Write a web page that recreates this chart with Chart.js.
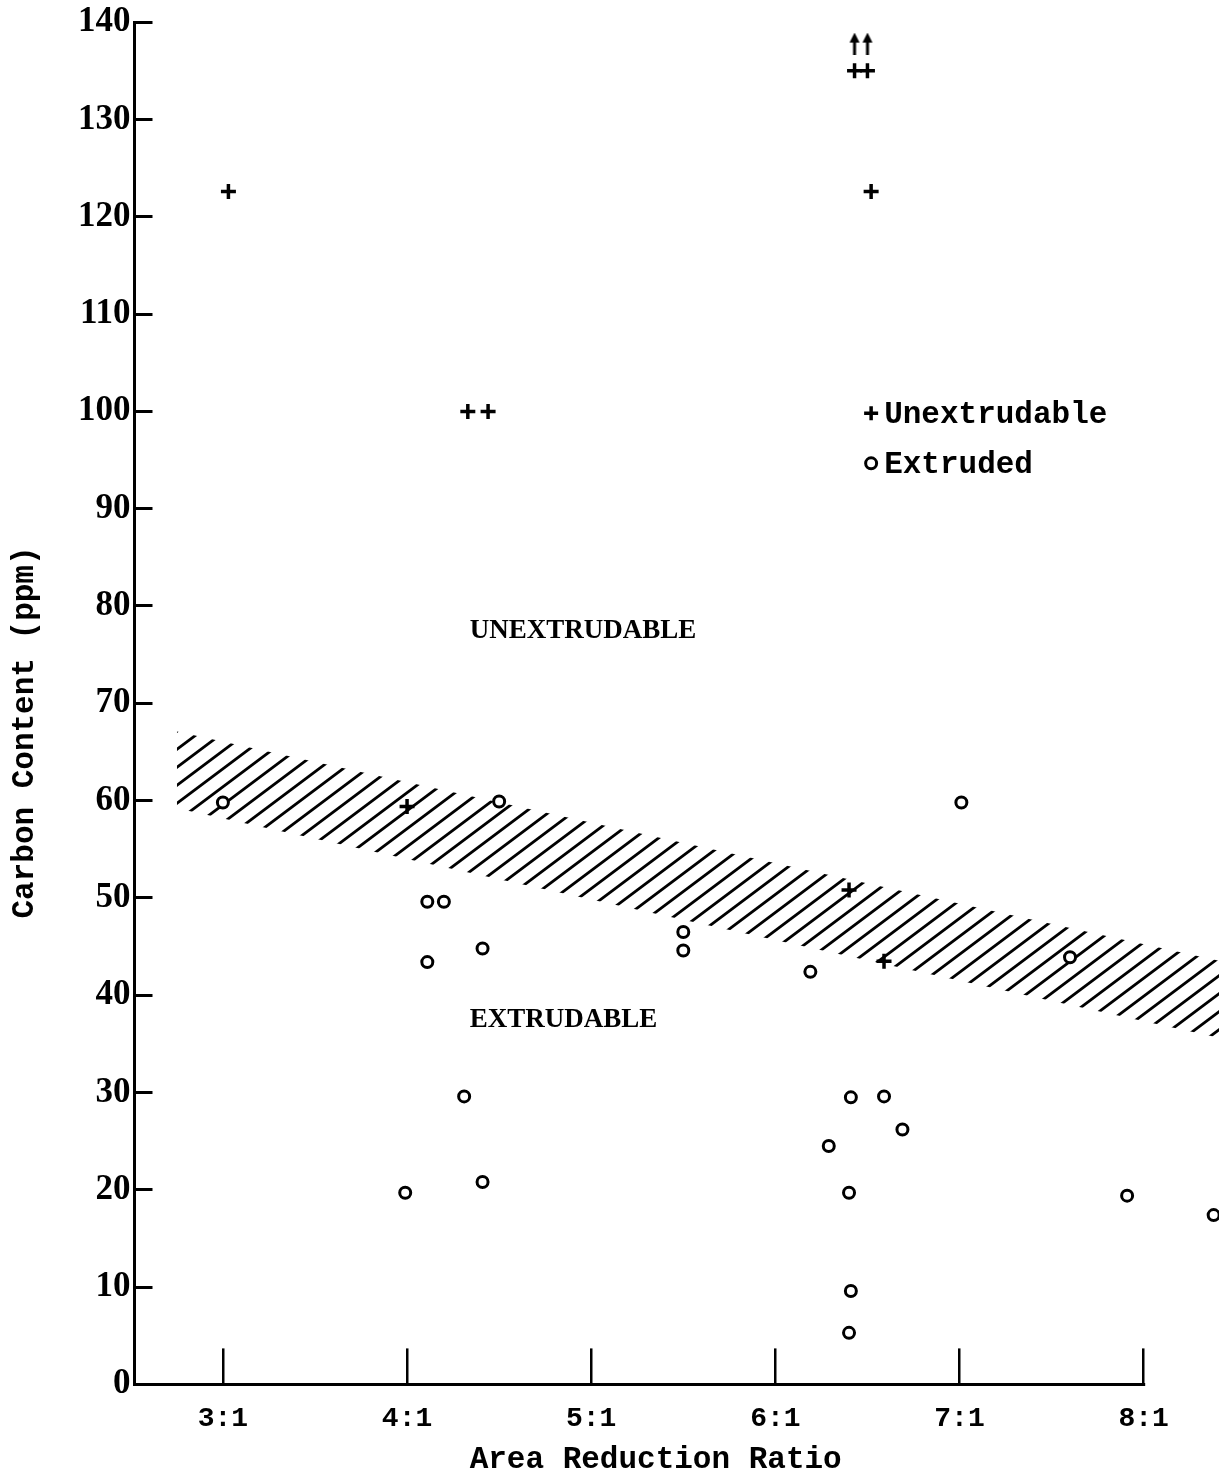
<!DOCTYPE html>
<html>
<head>
<meta charset="utf-8">
<script src="https://cdn.jsdelivr.net/npm/chart.js@4.4.1/dist/chart.umd.min.js"></script>
<style>
  html, body { margin: 0; padding: 0; background: #fff; }
</style>
</head>
<body>
<canvas id="chart" width="1230" height="1477"></canvas>
<script>
// area reduction ratio (n:1) vs carbon content (ppm)
var ratioTicks = [3, 4, 5, 6, 7, 8];

// + unextrudable billets
var unextrudableX = [3.03, 4.33, 4.44, 6.43, 6.50, 6.52, 4.00, 6.40, 6.59];
var unextrudableY = [122.6, 100, 100, 135, 135, 122.6, 59.4, 50.8, 43.5];

// arrows: off the top of the scale
var offScaleX = [6.43, 6.50];
var offScaleY = [137.8, 137.8];

// o extruded billets
var extrudedX = [3.00, 4.11, 4.20, 4.11, 4.50, 4.41, 4.31, 3.99, 4.41, 5.50, 5.50, 6.19,
                 7.01, 7.60, 6.41, 6.59, 6.69, 6.29, 6.40, 6.41, 6.40, 7.91, 8.38];
var extrudedY = [59.8, 49.6, 49.6, 43.4, 59.9, 44.8, 29.6, 19.7, 20.8, 46.5, 44.6, 42.4,
                 59.8, 43.9, 29.5, 29.6, 26.2, 24.5, 19.7, 9.6, 5.3, 19.4, 17.4];

// hatched boundary band (ends of its upper and lower edge)
var bandX = [2.75, 8.44];
var bandTop = [67.1, 43.4];
var bandBottom = [59.2, 35.5];

function toPoints(xs, ys) {
  var pts = [];
  for (var i = 0; i < xs.length; i++) pts.push({x: xs[i], y: ys[i]});
  return pts;
}

// diagonal hatch tile
function hatchPattern() {
  var c = document.createElement('canvas');
  c.width = 24; c.height = 18;
  var g = c.getContext('2d');
  g.strokeStyle = '#000';
  g.lineWidth = 2.8;
  for (var k = 0; k < 3; k++) {
    g.beginPath();
    g.moveTo(-24, k * 18 + 18);
    g.lineTo(48, k * 18 - 36);
    g.stroke();
  }
  return g.createPattern(c, 'repeat');
}

// small up arrow used as a point style
function arrowMark() {
  var c = document.createElement('canvas');
  c.width = 12; c.height = 22;
  var g = c.getContext('2d');
  g.fillStyle = '#000';
  g.fillRect(4.5, 6, 3, 16);
  g.beginPath();
  g.moveTo(6, 0); g.lineTo(11, 10); g.lineTo(1, 10); g.closePath();
  g.fill();
  return c;
}

var mono = '"Liberation Mono", "DejaVu Sans Mono", monospace';
var serif = '"Liberation Serif", "DejaVu Serif", serif';

// axis line that stops at 8:1, axis titles, region labels and the legend
var notes = {
  id: 'notes',
  afterDatasetsDraw: function(chart) {
    var ctx = chart.ctx, xs = chart.scales.x, ys = chart.scales.y;
    var area = chart.chartArea;
    ctx.save();
    ctx.strokeStyle = '#000';
    ctx.lineWidth = 3;
    ctx.beginPath();
    ctx.moveTo(area.left - 1.5, ys.getPixelForValue(0));
    ctx.lineTo(xs.getPixelForValue(8) + 1.5, ys.getPixelForValue(0));
    ctx.stroke();

    ctx.fillStyle = '#000';
    ctx.textBaseline = 'middle';
    ctx.font = 'bold 31px ' + mono;
    ctx.textAlign = 'center';
    ctx.fillText('Area Reduction Ratio', xs.getPixelForValue(5.35), chart.height - 17);

    // y title sits a little below the middle of the axis
    ctx.save();
    ctx.translate(25, ys.getPixelForValue(67));
    ctx.rotate(-Math.PI / 2);
    ctx.fillText('Carbon Content (ppm)', 0, 0);
    ctx.restore();

    ctx.textAlign = 'left';
    ctx.font = 'bold 27px ' + serif;
    ctx.fillText('UNEXTRUDABLE', xs.getPixelForValue(4.34), ys.getPixelForValue(77.4));
    ctx.fillText('EXTRUDABLE', xs.getPixelForValue(4.34), ys.getPixelForValue(37.4));

    var lx = xs.getPixelForValue(6.52), ly = ys.getPixelForValue(99.8);
    ctx.lineWidth = 3.5;
    ctx.beginPath();
    ctx.moveTo(lx - 7, ly); ctx.lineTo(lx + 7, ly);
    ctx.moveTo(lx, ly - 7); ctx.lineTo(lx, ly + 7);
    ctx.stroke();
    ctx.lineWidth = 3;
    ctx.beginPath();
    ctx.arc(lx, ly + 50, 5.5, 0, Math.PI * 2);
    ctx.stroke();
    ctx.font = 'bold 31px ' + mono;
    ctx.fillText('Unextrudable', lx + 13, ly + 2);
    ctx.fillText('Extruded', lx + 13, ly + 52);
    ctx.restore();
  }
};

var ctx = document.getElementById('chart').getContext('2d');
var myChart = new Chart(ctx, {
  type: 'scatter',
  data: {
    datasets: [{
      label: 'Unextrudable',
      data: toPoints(unextrudableX, unextrudableY),
      pointStyle: 'cross',
      pointRadius: 7.5,
      borderColor: '#000',
      borderWidth: 3.5
    }, {
      label: 'Off scale',
      data: toPoints(offScaleX, offScaleY),
      pointStyle: arrowMark()
    }, {
      label: 'Extruded',
      data: toPoints(extrudedX, extrudedY),
      pointStyle: 'circle',
      pointRadius: 5.5,
      borderColor: '#000',
      backgroundColor: '#fff',
      borderWidth: 3
    }, {
      type: 'line',
      label: 'band top',
      data: toPoints(bandX, bandTop),
      borderWidth: 0,
      pointRadius: 0,
      fill: '+1',
      backgroundColor: hatchPattern()
    }, {
      type: 'line',
      label: 'band bottom',
      data: toPoints(bandX, bandBottom),
      borderWidth: 0,
      pointRadius: 0,
      fill: false
    }]
  },
  options: {
    responsive: false,
    animation: false,
    layout: { padding: { top: 1, right: 2, bottom: -13, left: 56 } },
    plugins: {
      legend: { display: false },
      tooltip: { enabled: false }
    },
    scales: {
      x: {
        type: 'linear',
        min: 2.52,
        max: 8.409,
        border: { display: false },
        grid: { drawOnChartArea: false, color: '#000', lineWidth: 2.5, tickLength: -36 },
        ticks: {
          stepSize: 1,
          includeBounds: false,
          padding: 54,
          color: '#000',
          font: { family: mono, size: 28, weight: 'bold' },
          callback: function(v) { return ratioTicks.indexOf(v) >= 0 ? v + ':1' : ''; }
        }
      },
      y: {
        min: 0,
        max: 140,
        border: { display: true, color: '#000', width: 3 },
        grid: { drawOnChartArea: false, color: '#000', lineWidth: 3, tickLength: -18 },
        ticks: {
          stepSize: 10,
          padding: 22,
          color: '#000',
          font: { family: serif, size: 35, weight: 'bold', lineHeight: 0.01 }
        }
      }
    }
  },
  plugins: [notes]
});
</script>
</body>
</html>
